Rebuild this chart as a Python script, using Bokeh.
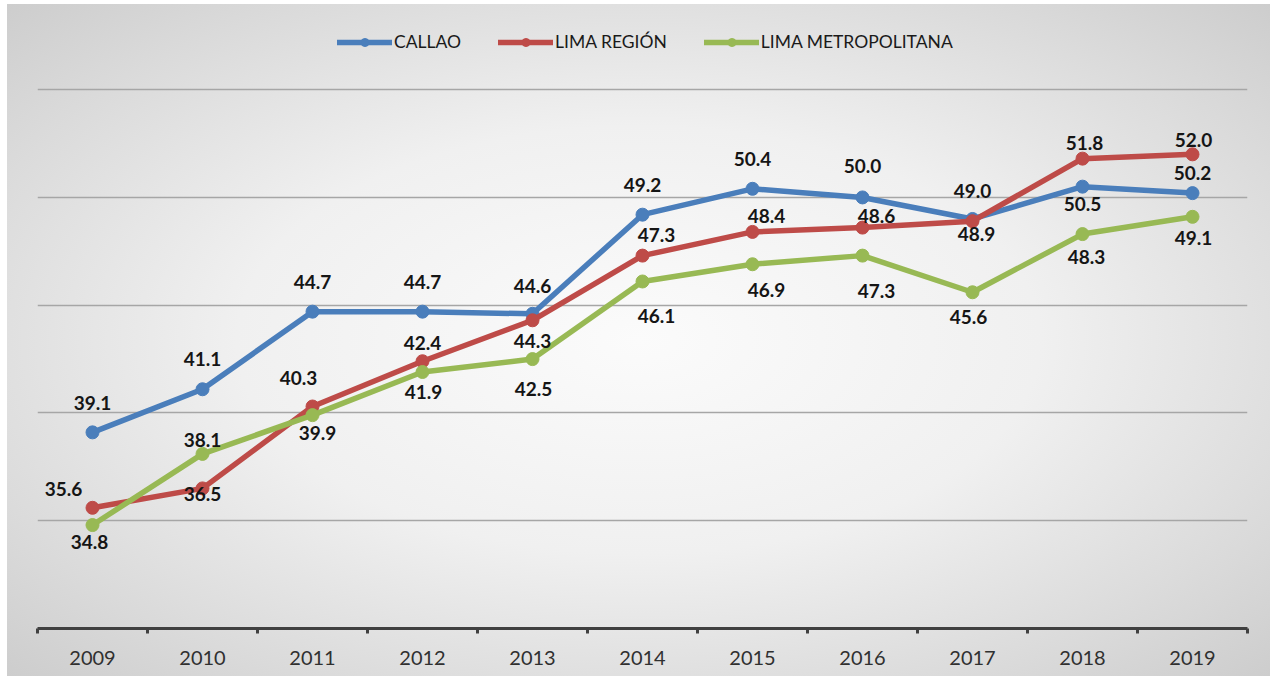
from bokeh.plotting import figure
from bokeh.models import (ColumnDataSource, Range1d, FixedTicker, Legend, LegendItem)
from bokeh.core.properties import value
from bokeh.embed import file_html
from bokeh.resources import INLINE

years = ["2009", "2010", "2011", "2012", "2013", "2014", "2015", "2016", "2017", "2018", "2019"]
callao = [39.1, 41.1, 44.7, 44.7, 44.6, 49.2, 50.4, 50.0, 49.0, 50.5, 50.2]
lima_region = [35.6, 36.5, 40.3, 42.4, 44.3, 47.3, 48.4, 48.6, 48.9, 51.8, 52.0]
lima_metro = [34.8, 38.1, 39.9, 41.9, 42.5, 46.1, 46.9, 47.3, 45.6, 48.3, 49.1]
series_names = ["CALLAO", "LIMA REGIÓN", "LIMA METROPOLITANA"]

# label placement (pixel offsets, style only)
callao_dx = [0, 0, 0, 0, 0, 0, 0, 0, 0, 0, 0]
callao_dy = [-29, -30, -30, -30, -28, -30, -30, -31, -28, 17, -20]
region_dx = [-29, 0, -14, 0, 0, 14, 14, 14, 4, 2, 1]
region_dy = [-19, 6, -28, -18, 21, -21, -16, -12, 13, -16, -14]
metro_dx = [-3, 0, 5, 1, 1, 14, 14, 14, -4, 4, 1]
metro_dy = [17, -14, 18, 20, 30, 35, 26, 35, 25, 23, 21]

colors = ["#4a7ebb", "#be4b48", "#98b954"]

W, H = 1270, 676
p = figure(width=W, height=H, output_backend="svg", toolbar_location=None,
           x_range=Range1d(-0.5, 10.5), y_range=Range1d(30, 58.58),
           y_axis_location=None, min_border_left=37, min_border_right=23,
           min_border_top=12, min_border_bottom=48)
p.styles = {
    "background-color": "white",
    "background-image": "radial-gradient(ellipse at center, #fbfbfb 0%, #f0f0f0 45%, #dadada 80%, #cdcdcd 100%)",
    "background-repeat": "no-repeat",
    "background-position": "7px 4px",
    "background-size": "calc(100% - 7px) calc(100% - 4px)",
}
p.border_fill_color = None
p.background_fill_color = None
p.outline_line_color = None

xs = list(range(len(years)))

p.xgrid.visible = False
p.ygrid.ticker = FixedTicker(ticks=[35, 40, 45, 50, 55])
p.ygrid.grid_line_color = "#a6a6a6"
p.ygrid.grid_line_width = 1.5

ax = p.xaxis[0]
ax.ticker = FixedTicker(ticks=xs, minor_ticks=[i - 0.5 for i in range(len(years) + 1)])
ax.major_label_overrides = {i: y for i, y in enumerate(years)}
ax.major_tick_line_color = None
ax.major_tick_out = 0
ax.major_tick_in = 0
ax.minor_tick_line_color = "#404040"
ax.minor_tick_line_width = 3
ax.minor_tick_out = 5
ax.minor_tick_in = 0
ax.axis_line_color = "#404040"
ax.axis_line_width = 3
ax.major_label_standoff = 17
ax.major_label_text_font = "Lato"
ax.major_label_text_font_size = "20px"
ax.major_label_text_color = "#303030"

items = []
all_series = [callao, lima_region, lima_metro]
dxs = [callao_dx, region_dx, metro_dx]
dys = [callao_dy, region_dy, metro_dy]
for name, vals, col in zip(series_names, all_series, colors):
    src = ColumnDataSource(dict(x=xs, y=vals))
    ln = p.line("x", "y", source=src, line_color=col, line_width=5.5, line_cap="round", line_join="round")
    sc = p.scatter("x", "y", source=src, size=13, fill_color=col, line_color=col)
    items.append(LegendItem(label=name, renderers=[ln, sc]))

for name, vals, col, dx, dy in zip(series_names, all_series, colors, dxs, dys):
    src = ColumnDataSource(dict(x=xs, y=vals, lab=[f"{v:.1f}" for v in vals], dx=dx, dy=dy))
    p.text("x", "y", text="lab", source=src, x_offset="dx", y_offset="dy",
           text_align="center", text_baseline="middle", text_font=value("Lato"),
           text_font_style="bold", text_font_size="19px", text_color="#151515")

legend = Legend(items=items, orientation="horizontal", location=(300, 576))
legend.background_fill_alpha = 0
legend.border_line_color = None
legend.label_text_font = "Lato"
legend.label_text_font_size = "17.5px"
legend.label_text_color = "#1a1a1a"
legend.glyph_width = 55
legend.glyph_height = 20
legend.label_height = 20
legend.label_standoff = 2
legend.spacing = 37
legend.padding = 0
legend.margin = 0
p.add_layout(legend)

open("out.html", "w").write(file_html(p, INLINE))
